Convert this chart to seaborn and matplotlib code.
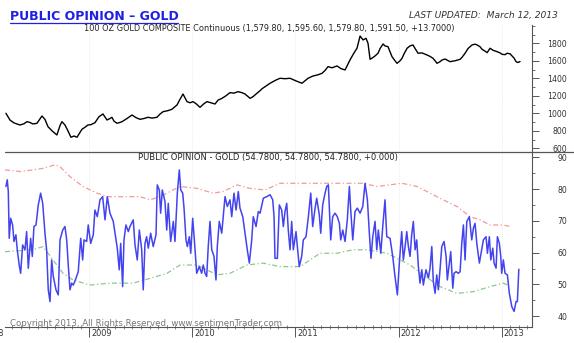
import numpy as np
import pandas as pd
import matplotlib
matplotlib.use("Agg")
import matplotlib.pyplot as plt
import matplotlib.transforms as mtransforms
from matplotlib.lines import Line2D
from matplotlib.ticker import FixedLocator, NullFormatter
import seaborn as sns

# ---------------- data (fractional years) ----------------
gold_t = [
    2008.189, 2008.228, 2008.267, 2008.325, 2008.364, 2008.393, 2008.422, 2008.451, 2008.490, 2008.539,
    2008.568, 2008.597, 2008.636, 2008.655, 2008.684, 2008.714, 2008.733, 2008.762, 2008.791, 2008.820,
    2008.850, 2008.879, 2008.908, 2008.927, 2008.956, 2008.985, 2009.015, 2009.053, 2009.092, 2009.131,
    2009.170, 2009.199, 2009.218, 2009.238, 2009.267, 2009.296, 2009.316, 2009.364, 2009.413, 2009.452,
    2009.490, 2009.529, 2009.568, 2009.607, 2009.655, 2009.684, 2009.714, 2009.762, 2009.801, 2009.850,
    2009.879, 2009.908, 2009.947, 2009.976, 2010.005, 2010.034, 2010.073, 2010.112, 2010.141, 2010.180,
    2010.219, 2010.248, 2010.287, 2010.325, 2010.364, 2010.403, 2010.442, 2010.481, 2010.510, 2010.559,
    2010.588, 2010.626, 2010.656, 2010.675, 2010.704, 2010.753, 2010.782, 2010.811, 2010.850, 2010.898,
    2010.947, 2011.005, 2011.063, 2011.122, 2011.170, 2011.219, 2011.258, 2011.287, 2011.316, 2011.355,
    2011.403, 2011.442, 2011.481, 2011.500, 2011.529, 2011.568, 2011.597, 2011.627, 2011.656, 2011.685,
    2011.704, 2011.724, 2011.743, 2011.772, 2011.801, 2011.821, 2011.850, 2011.869, 2011.898, 2011.937,
    2011.966, 2011.986, 2012.015, 2012.034, 2012.054, 2012.083, 2012.112, 2012.141, 2012.161, 2012.190,
    2012.228, 2012.277, 2012.306, 2012.335, 2012.355, 2012.374, 2012.403, 2012.423, 2012.452, 2012.500,
    2012.549, 2012.598, 2012.617, 2012.646, 2012.675, 2012.714, 2012.743, 2012.763, 2012.792, 2012.811,
    2012.840, 2012.860, 2012.889, 2012.918, 2012.957, 2012.986, 2013.005, 2013.034, 2013.054, 2013.083,
    2013.102, 2013.122, 2013.141, 2013.160, 2013.180]
gold_price = [
    1000, 923, 890, 866, 880, 904, 895, 878, 885, 969,
    930, 847, 800, 780, 752, 860, 904, 866, 800, 726,
    740, 726, 780, 817, 840, 866, 870, 892, 960, 992,
    923, 940, 954, 910, 886, 895, 904, 940, 980, 950,
    931, 940, 954, 945, 954, 990, 1018, 1030, 1046, 1095,
    1160, 1220, 1133, 1120, 1133, 1110, 1068, 1110, 1133, 1120,
    1106, 1150, 1171, 1200, 1236, 1230, 1247, 1235, 1220, 1171,
    1190, 1229, 1258, 1280, 1304, 1343, 1361, 1380, 1400, 1395,
    1400, 1370, 1343, 1400, 1426, 1440, 1457, 1490, 1533, 1520,
    1541, 1510, 1495, 1540, 1609, 1690, 1743, 1883, 1838, 1857,
    1800, 1617, 1630, 1655, 1686, 1740, 1792, 1770, 1761, 1647,
    1600, 1571, 1600, 1628, 1680, 1743, 1770, 1781, 1740, 1686,
    1690, 1666, 1650, 1628, 1600, 1571, 1590, 1609, 1620, 1590,
    1600, 1617, 1640, 1686, 1740, 1781, 1790, 1781, 1760, 1731,
    1710, 1693, 1743, 1720, 1704, 1690, 1674, 1670, 1686, 1680,
    1655, 1630, 1590, 1580, 1591.5]

opinion_t = [
    2008.189, 2008.202, 2008.212, 2008.221, 2008.235, 2008.254, 2008.267, 2008.286, 2008.299, 2008.318,
    2008.332, 2008.351, 2008.374, 2008.390, 2008.406, 2008.429, 2008.445, 2008.461, 2008.481, 2008.503,
    2008.526, 2008.546, 2008.568, 2008.584, 2008.600, 2008.617, 2008.633, 2008.649, 2008.675, 2008.697,
    2008.714, 2008.740, 2008.762, 2008.779, 2008.794, 2008.811, 2008.827, 2008.843, 2008.869, 2008.891,
    2008.915, 2008.934, 2008.947, 2008.973, 2008.988, 2009.012, 2009.037, 2009.053, 2009.076, 2009.102,
    2009.128, 2009.151, 2009.173, 2009.199, 2009.231, 2009.248, 2009.270, 2009.289, 2009.303, 2009.322,
    2009.335, 2009.354, 2009.377, 2009.393, 2009.425, 2009.442, 2009.464, 2009.484, 2009.507, 2009.522,
    2009.539, 2009.555, 2009.571, 2009.594, 2009.619, 2009.646, 2009.658, 2009.678, 2009.691, 2009.707,
    2009.733, 2009.750, 2009.765, 2009.788, 2009.814, 2009.830, 2009.853, 2009.872, 2009.886, 2009.905,
    2009.918, 2009.937, 2009.950, 2009.969, 2009.983, 2010.002, 2010.018, 2010.041, 2010.066, 2010.089,
    2010.105, 2010.122, 2010.138, 2010.153, 2010.170, 2010.187, 2010.209, 2010.228, 2010.241, 2010.260,
    2010.284, 2010.316, 2010.338, 2010.364, 2010.381, 2010.403, 2010.423, 2010.445, 2010.461, 2010.488,
    2010.510, 2010.532, 2010.552, 2010.575, 2010.590, 2010.617, 2010.639, 2010.656, 2010.688, 2010.721,
    2010.753, 2010.779, 2010.792, 2010.801, 2010.824, 2010.843, 2010.866, 2010.882, 2010.898, 2010.915,
    2010.930, 2010.947, 2010.963, 2010.979, 2011.005, 2011.018, 2011.037, 2011.060, 2011.076, 2011.102,
    2011.125, 2011.148, 2011.167, 2011.190, 2011.206, 2011.231, 2011.245, 2011.264, 2011.287, 2011.303,
    2011.319, 2011.342, 2011.361, 2011.384, 2011.406, 2011.426, 2011.439, 2011.459, 2011.481, 2011.503,
    2011.523, 2011.536, 2011.556, 2011.578, 2011.600, 2011.627, 2011.653, 2011.675, 2011.698, 2011.717,
    2011.733, 2011.750, 2011.772, 2011.789, 2011.804, 2011.828, 2011.847, 2011.869, 2011.886, 2011.918,
    2011.944, 2011.966, 2011.989, 2012.008, 2012.031, 2012.047, 2012.064, 2012.080, 2012.096, 2012.112,
    2012.128, 2012.144, 2012.161, 2012.177, 2012.193, 2012.209, 2012.226, 2012.241, 2012.267, 2012.290,
    2012.306, 2012.323, 2012.338, 2012.355, 2012.371, 2012.387, 2012.403, 2012.420, 2012.442, 2012.462,
    2012.474, 2012.494, 2012.507, 2012.527, 2012.539, 2012.559, 2012.581, 2012.598, 2012.614, 2012.630,
    2012.646, 2012.663, 2012.688, 2012.711, 2012.727, 2012.743, 2012.760, 2012.785, 2012.808, 2012.824,
    2012.850, 2012.863, 2012.882, 2012.896, 2012.915, 2012.928, 2012.947, 2012.960, 2012.979, 2012.993,
    2013.002, 2013.018, 2013.034, 2013.057, 2013.076, 2013.100, 2013.122, 2013.141, 2013.154, 2013.168]
opinion = [
    80.8, 82.9, 79.2, 64.5, 70.8, 68.7, 63.5, 65.6, 60.9, 56.1,
    53.5, 62.4, 60.9, 66.6, 55.1, 64.5, 58.8, 68.2, 68.7, 75.0,
    78.7, 75.5, 66.1, 60.9, 48.3, 44.6, 57.7, 52.5, 48.3, 46.7,
    64.0, 67.1, 68.2, 64.0, 56.1, 48.3, 50.4, 49.8, 51.9, 54.0,
    64.5, 57.7, 64.0, 63.5, 68.7, 62.9, 65.6, 73.4, 71.3, 76.6,
    77.6, 70.3, 77.6, 72.4, 69.8, 66.1, 61.4, 54.6, 62.9, 49.3,
    64.0, 68.7, 66.6, 68.2, 70.3, 62.4, 57.7, 67.1, 60.9, 48.3,
    62.9, 65.0, 61.4, 66.1, 61.9, 65.6, 81.3, 79.7, 72.4, 79.7,
    76.1, 67.1, 75.5, 63.5, 69.8, 63.5, 78.7, 86.0, 79.7, 78.7,
    74.0, 64.0, 61.9, 65.0, 59.8, 70.8, 64.0, 53.5, 55.6, 53.5,
    56.1, 53.5, 52.5, 61.9, 69.8, 60.9, 58.8, 51.4, 61.9, 69.8,
    66.1, 77.6, 74.5, 76.6, 71.3, 78.7, 73.4, 79.2, 74.0, 71.3,
    66.1, 60.9, 56.7, 64.0, 71.3, 68.2, 72.9, 72.4, 77.1, 77.6,
    78.2, 76.6, 71.3, 58.2, 58.2, 75.0, 73.4, 68.2, 72.9, 75.5,
    67.1, 60.9, 69.8, 60.9, 66.6, 61.9, 55.6, 58.8, 64.0, 65.0,
    71.3, 78.7, 68.2, 73.9, 77.1, 71.9, 66.1, 75.0, 78.7, 80.8,
    81.3, 64.0, 71.3, 72.4, 71.3, 69.2, 64.0, 67.1, 63.5, 70.3,
    80.8, 73.4, 64.0, 72.9, 74.0, 72.4, 74.5, 81.8, 76.6, 66.1,
    58.2, 65.0, 69.8, 60.9, 67.1, 59.8, 68.2, 76.6, 65.0, 64.5,
    58.8, 52.5, 46.7, 56.7, 66.6, 57.7, 61.9, 66.6, 61.9, 58.8,
    65.6, 69.8, 60.9, 64.0, 55.6, 50.4, 54.6, 49.8, 54.6, 52.0,
    55.1, 61.9, 50.9, 47.2, 53.0, 48.3, 54.6, 61.9, 63.5, 58.8,
    51.4, 56.7, 60.3, 48.8, 53.5, 54.0, 53.5, 54.0, 62.9, 68.7,
    57.7, 69.8, 71.3, 64.0, 67.7, 69.2, 62.9, 56.7, 60.9, 64.0,
    65.0, 59.8, 65.0, 57.7, 61.4, 56.7, 55.1, 65.0, 62.9, 58.8,
    53.5, 57.7, 53.5, 53.0, 47.2, 43.0, 41.5, 44.6, 44.6, 54.78]

upper_t = [
    2008.180, 2008.325, 2008.451, 2008.549, 2008.665, 2008.714, 2008.811, 2008.937, 2009.073, 2009.170,
    2009.267, 2009.393, 2009.490, 2009.588, 2009.685, 2009.879, 2010.044, 2010.199, 2010.296, 2010.432,
    2010.558, 2010.704, 2010.850, 2011.044, 2011.267, 2011.432, 2011.656, 2011.791, 2012.034, 2012.180,
    2012.306, 2012.432, 2012.568, 2012.695, 2012.792, 2012.889, 2013.015, 2013.083]
upper_band = [
    86.0, 85.5, 86.0, 86.5, 87.6, 87.0, 83.9, 80.8, 78.7, 77.6,
    77.6, 77.6, 77.6, 76.6, 77.6, 80.8, 80.2, 78.7, 79.2, 81.3,
    80.2, 79.7, 81.8, 81.8, 81.8, 81.8, 81.8, 80.8, 81.8, 80.8,
    78.7, 76.6, 74.5, 71.3, 70.3, 68.7, 68.7, 68.2]

lower_t = [
    2008.180, 2008.451, 2008.549, 2008.646, 2008.743, 2008.840, 2009.005, 2009.199, 2009.422, 2009.588,
    2009.753, 2009.879, 2010.044, 2010.238, 2010.364, 2010.529, 2010.685, 2010.850, 2011.044, 2011.141,
    2011.238, 2011.403, 2011.558, 2011.695, 2011.889, 2011.986, 2012.112, 2012.238, 2012.403, 2012.568,
    2012.724, 2012.889, 2013.015, 2013.063]
lower_band = [
    60.3, 60.9, 61.9, 57.7, 53.5, 51.4, 49.8, 50.4, 50.4, 51.9,
    53.5, 56.1, 56.1, 53.0, 53.5, 56.1, 56.7, 55.6, 55.6, 57.7,
    59.8, 59.8, 60.9, 60.9, 59.8, 58.2, 56.1, 53.0, 49.3, 47.2,
    47.7, 49.3, 50.4, 49.8]

year_ticks = [2009, 2010, 2011, 2012, 2013]
gold_ticks = [600, 800, 1000, 1200, 1400, 1600, 1800]
opinion_ticks = [40, 50, 60, 70, 80, 90]

main_title = "PUBLIC OPINION \u2013 GOLD"
updated_text = "LAST UPDATED:  March 12, 2013"
gold_title = "100 OZ GOLD COMPOSITE Continuous (1,579.80, 1,595.60, 1,579.80, 1,591.50, +13.7000)"
opinion_title = "PUBLIC OPINION - GOLD (54.7800, 54.7800, 54.7800, +0.000)"
copyright_text = "Copyright 2013, All Rights Reserved. www.sentimenTrader.com"

# ---------------- figure ----------------
sns.set_theme(style="white")
plt.rcParams['font.family'] = ['DejaVu Sans']

W, H = 574, 343
fig = plt.figure(figsize=(W / 100, H / 100), dpi=100)
fig.patch.set_facecolor("white")


def fx(px):
    return px / W


def fy(py):
    return 1 - py / H


x_left, x_right = 5, 531.7
y_top1, y_sep, y_bot2 = 25, 151.5, 326.7

ax1 = fig.add_axes([fx(x_left), fy(y_sep), fx(x_right) - fx(x_left), fy(y_top1) - fy(y_sep)])
ax2 = fig.add_axes([fx(x_left), fy(y_bot2), fx(x_right) - fx(x_left), fy(y_sep) - fy(y_bot2)])

gold_df = pd.DataFrame({"t": gold_t, "price": gold_price})
op_df = pd.DataFrame({"t": opinion_t, "value": opinion})
up_df = pd.DataFrame({"t": upper_t, "value": upper_band})
lo_df = pd.DataFrame({"t": lower_t, "value": lower_band})

sns.lineplot(data=gold_df, x="t", y="price", ax=ax1, color="black", lw=1.0,
             estimator=None, sort=False)
sns.lineplot(data=up_df, x="t", y="value", ax=ax2, color="#f29a9a", lw=0.9,
             estimator=None, sort=False, linestyle=(0, (4, 2, 1, 2)))
sns.lineplot(data=lo_df, x="t", y="value", ax=ax2, color="#8cc88c", lw=0.9,
             estimator=None, sort=False, linestyle=(0, (4, 2, 1, 2)))
sns.lineplot(data=op_df, x="t", y="value", ax=ax2, color="#4343f0", lw=1.1,
             estimator=None, sort=False)

xmin, xmax = 2008.180, 2013.293
spine_col = "#555555"
for ax in (ax1, ax2):
    ax.set_xlim(xmin, xmax)
    ax.set_xlabel("")
    ax.set_ylabel("")
    ax.set_facecolor("white")
    for s in ("left", "top"):
        ax.spines[s].set_visible(False)
    ax.spines["right"].set_color(spine_col)
    ax.spines["right"].set_linewidth(0.8)
    ax.yaxis.tick_right()
    ax.xaxis.set_major_locator(FixedLocator(year_ticks))
    ax.grid(axis="x", which="major", color="#e4e4e4", lw=0.6, ls=":")
    ax.grid(axis="y", visible=False)

ax1.spines["bottom"].set_visible(False)
ax2.spines["bottom"].set_color(spine_col)
ax2.spines["bottom"].set_linewidth(0.8)

ax1.set_ylim(563, 2009)
ax2.set_ylim(36.7, 91.8)

ax1.yaxis.set_major_locator(FixedLocator(gold_ticks))
ax1.yaxis.set_minor_locator(FixedLocator(list(range(600, 2001, 100))))
ax2.yaxis.set_major_locator(FixedLocator(opinion_ticks))
ax2.yaxis.set_minor_locator(FixedLocator(list(range(40, 91, 5))))

for ax in (ax1, ax2):
    ax.tick_params(axis="y", which="major", direction="out", length=5, width=0.7,
                   color=spine_col, labelsize=5.6, labelcolor="#333333", pad=20.4,
                   left=False, right=True, labelleft=False, labelright=True)
    ax.tick_params(axis="y", which="minor", direction="out", length=2.5, width=0.6,
                   color=spine_col, left=False, right=True)
    plt.setp(ax.get_yticklabels(), ha="right")

ax1.tick_params(axis="x", which="both", length=0, labelbottom=False, bottom=False)
months = [y + m / 12 for y in range(2008, 2014) for m in range(12)]
ax2.xaxis.set_minor_locator(FixedLocator(months))
ax2.xaxis.set_minor_formatter(NullFormatter())
ax2.tick_params(axis="x", which="major", direction="out", length=7.5, width=0.7,
                color=spine_col, labelbottom=False, bottom=True)
ax2.tick_params(axis="x", which="minor", direction="inout", length=3, width=0.5,
                color=spine_col, bottom=True)

# year labels, left-aligned just right of the major ticks
trans = mtransforms.blended_transform_factory(ax2.transData, ax2.transAxes) + \
    mtransforms.ScaledTranslation(2 / 100, -6.6 / 100, fig.dpi_scale_trans)
for yr in year_ticks:
    ax2.text(yr, 0, str(yr), transform=trans, ha="left", va="center",
             fontsize=5.9, color="#333333", clip_on=False)
fig.text(fx(3.5), fy(333.3), "2008", ha="right", va="center", fontsize=5.9, color="#333333")

# separator between the panels (spans to the right edge)
fig.add_artist(Line2D([fx(x_left), 1.0], [fy(y_sep), fy(y_sep)], color=spine_col, lw=0.9))

# titles
blue = "#1f1fe6"
fig.text(fx(10), fy(16.5), main_title, color=blue, fontweight="bold", fontsize=9,
         ha="left", va="center")
fig.add_artist(Line2D([fx(10), fx(178)], [fy(22.7), fy(22.7)], color=blue, lw=0.9))
fig.text(fx(558), fy(15.5), updated_text, style="italic", fontsize=6.6,
         ha="right", va="center", color="#333333")
fig.text(fx(269.2), fy(28), gold_title, fontsize=5.9, ha="center", va="center", color="#222222")
fig.text(fx(268.3), fy(157.5), opinion_title, fontsize=6.0, ha="center", va="center", color="#222222")
fig.text(fx(10), fy(323), copyright_text, fontsize=6.2, ha="left", va="center", color="#777777")

fig.savefig("out.png", dpi=100, facecolor="white")
